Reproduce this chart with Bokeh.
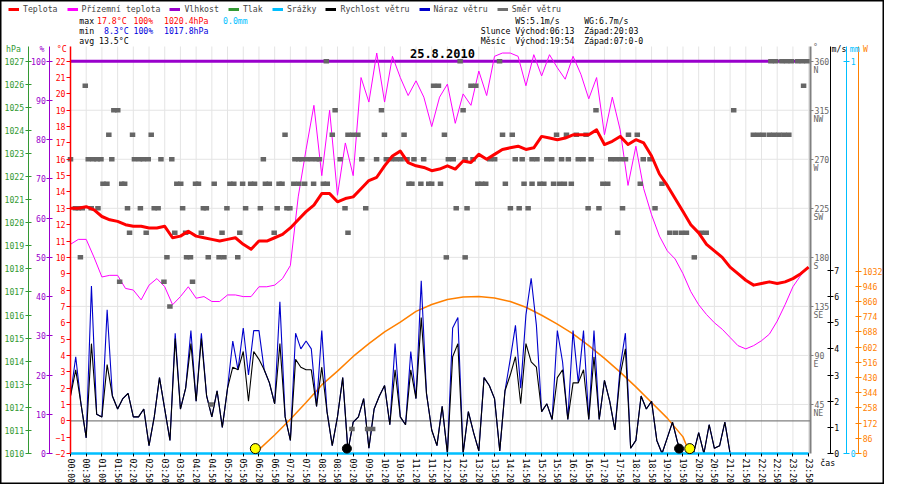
from bokeh.plotting import figure
from bokeh.models import (Range1d, LinearAxis, FixedTicker, Label, Legend, LegendItem)
from bokeh.embed import file_html
from bokeh.resources import INLINE

FONT = "DejaVu Sans Mono"
FS = "8.2px"

# ---------------- data ----------------
time_labels = ["00:00", "00:30", "01:00", "01:50", "02:20", "02:50", "03:20", "03:50",
               "04:20", "04:50", "05:20", "05:50", "06:20", "06:50", "07:20", "07:50",
               "08:20", "08:50", "09:20", "09:50", "10:20", "10:50", "11:20", "11:50",
               "12:20", "12:50", "13:20", "13:50", "14:20", "14:50", "15:20", "15:50",
               "16:20", "16:50", "17:20", "17:50", "18:20", "18:50", "19:20", "19:50",
               "20:20", "20:50", "21:20", "21:50", "22:20", "22:50", "23:20", "23:50"]

# temperature series sampled every half label slot
temp_slot = [i * 0.5 for i in range(95)]
temperature = [13.0, 13.0, 13.1, 12.9, 12.5, 12.3, 12.2, 12.0, 11.9, 11.9,
               11.8, 11.8, 11.9, 11.2, 11.3, 11.6, 11.3, 11.2, 11.1, 11.0,
               11.1, 11.2, 10.8, 10.5, 11.0, 11.0, 11.2, 11.4, 11.8, 12.3,
               12.8, 13.2, 13.9, 13.9, 13.4, 13.6, 13.7, 14.2, 14.7, 14.9,
               15.6, 16.2, 16.5, 15.8, 15.6, 15.5, 15.3, 15.4, 15.6, 15.4,
               15.9, 15.8, 16.3, 16.0, 16.3, 16.6, 16.7, 16.8, 16.6, 16.7,
               17.4, 17.3, 17.2, 17.3, 17.5, 17.5, 17.5, 17.8, 16.9, 17.1,
               17.4, 16.9, 17.2, 17.0, 16.2, 15.1, 14.4, 13.6, 12.8, 12.0,
               11.5, 10.8, 10.4, 10.0, 9.4, 9.0, 8.6, 8.3, 8.4, 8.5,
               8.4, 8.5, 8.7, 9.0, 9.4]
ground_temp = [10.8, 11.1, 11.1, 10.0, 8.8, 8.9, 8.9, 8.1, 8.0, 7.4,
               8.3, 8.7, 8.2, 7.1, 7.6, 8.2, 7.5, 7.6, 7.3, 7.3,
               7.7, 7.7, 7.6, 7.6, 8.2, 8.2, 8.3, 8.7, 9.5, 13.7,
               16.6, 19.3, 15.0, 19.0, 13.8, 17.0, 15.0, 21.0, 19.5, 22.5,
               19.5, 22.3, 21.0, 19.9, 20.8, 19.8, 18.0, 19.8, 20.6, 18.2,
               20.0, 19.3, 21.4, 19.9, 22.3, 22.5, 22.5, 22.3, 20.5, 22.4,
               21.1, 22.4, 21.6, 20.9, 22.3, 21.2, 19.7, 21.0, 17.5, 19.8,
               17.8, 14.4, 16.8, 14.2, 12.6, 11.3, 10.4, 9.9, 9.0, 7.9,
               7.1, 6.5, 6.0, 5.6, 5.1, 4.6, 4.4, 4.6, 4.9, 5.3,
               6.1, 7.1, 8.2, 8.9, 9.4]
humidity = [100] * 95
rain_mm = [0.0] * 95

# wind sampled every third of a label slot
wind_slot = [i / 3 for i in range(142)]
wind_speed = [2.2, 3.2, 1.9, 0.6, 4.2, 1.5, 1.4, 3.4, 2.2, 1.7,
              2.1, 2.3, 1.4, 1.4, 1.7, 0.3, 1.4, 2.9, 1.7, 0.5,
              4.4, 1.7, 2.5, 4.2, 2.0, 4.4, 2.2, 1.4, 2.4, 1.0,
              2.5, 3.3, 3.2, 3.9, 2.0, 3.9, 3.6, 3.2, 2.7, 1.9,
              4.2, 1.4, 0.5, 3.6, 3.3, 3.2, 3.2, 1.8, 3.3, 1.6,
              0.3, 1.4, 2.9, 0.1, 1.2, 1.4, 2.1, 0.2, 1.7, 2.2,
              2.6, 1.1, 3.2, 1.4, 1.1, 3.2, 2.1, 5.2, 2.3, 0.9,
              0.3, 1.8, 0.0, 3.7, 4.2, 0.0, 1.6, 0.8, 0.1, 2.9,
              2.6, 2.1, 0.1, 2.4, 3.0, 3.7, 1.9, 4.2, 3.5, 3.3,
              1.6, 1.9, 1.3, 2.9, 3.2, 1.3, 2.7, 2.7, 3.2, 1.3,
              3.7, 1.3, 2.8, 2.0, 0.9, 3.0, 4.0, 0.2, 0.5, 2.2,
              1.7, 2.0, 0.5, 0.0, 0.6, 1.2, 0.4, 0.0, 0.0, 0.0,
              0.8, 0.0, 1.1, 0.2, 0.3, 1.2, 0.0, 0.0, 0.0, 0.0,
              0.0, 0.0, 0.0, 0.0, 0.0, 0.0, 0.0, 0.0, 0.0, 0.0,
              0.0, 0.0]
wind_gust = [2.2, 3.7, 1.9, 0.6, 6.4, 1.5, 1.4, 5.5, 2.2, 1.7,
             2.1, 2.3, 1.4, 1.4, 1.7, 0.3, 1.4, 2.9, 1.7, 0.5,
             4.6, 1.7, 2.5, 4.7, 2.0, 4.6, 2.2, 1.4, 2.4, 1.0,
             2.5, 4.3, 3.2, 4.8, 3.0, 4.7, 4.7, 3.2, 2.7, 1.9,
             5.8, 1.4, 0.5, 4.6, 4.0, 4.3, 4.0, 1.8, 4.7, 1.6,
             0.3, 1.4, 2.9, 0.1, 1.2, 1.4, 2.1, 0.2, 1.7, 2.2,
             2.6, 1.1, 4.2, 1.4, 1.1, 3.9, 2.1, 6.6, 2.3, 0.9,
             0.3, 1.8, 0.0, 4.8, 5.2, 0.0, 1.6, 0.8, 0.1, 2.9,
             2.6, 2.1, 0.1, 2.4, 3.6, 4.9, 2.5, 5.3, 6.7, 4.9,
             1.6, 1.9, 1.3, 4.7, 3.5, 1.3, 4.7, 2.7, 4.7, 1.3,
             4.7, 1.3, 2.8, 2.0, 0.9, 3.3, 4.6, 0.2, 0.5, 2.2,
             1.7, 2.0, 0.5, 0.0, 0.6, 1.2, 0.4, 0.0, 0.0, 0.0,
             0.8, 0.0, 1.1, 0.2, 0.3, 1.2, 0.0, 0.0, 0.0, 0.0,
             0.0, 0.0, 0.0, 0.0, 0.0, 0.0, 0.0, 0.0, 0.0, 0.0,
             0.0, 0.0]

# theoretical sun radiation (W), sunrise 06:13 -> sunset 20:03
sun_slot = [11.77] + list(range(12, 40)) + [39.43]
sun_w = [0, 22, 105, 194, 288, 388, 466, 549, 621, 688, 743, 804, 843, 871, 885,
         888, 879, 860, 827, 782, 732, 677, 610, 538, 460, 377, 288, 200, 94, 0]

# wind direction samples (slot position per compass level)
dir_360 = [16.29, 24.81, 27.32, 44.6, 44.9, 45.3, 45.6, 45.9, 46.3, 46.6, 46.9]
dir_337 = [0.94, 23.12, 23.43, 25.50, 25.81, 46.68]
dir_315 = [2.76, 3.01, 16.85, 19.80, 25.00, 33.46, 42.23]
dir_292 = [2.44, 3.95, 5.14, 13.66, 16.67, 17.67, 17.98, 18.30, 19.99, 21.24, 23.81,
           27.51, 28.13, 30.95, 31.58, 32.21, 32.83, 35.53, 36.09, 43.48, 43.80,
           44.11, 44.49, 44.80, 45.11, 45.43, 45.74]
dir_270 = [0.00, 1.13, 1.44, 1.69, 1.94, 2.63, 4.07, 4.39, 4.64, 4.95, 5.76, 6.45,
           12.28, 14.29, 14.54, 14.72, 15.04, 15.35, 15.66, 15.85, 17.17, 18.55,
           19.49, 20.11, 20.43, 20.74, 21.05, 21.43, 21.87, 22.49, 24.06, 24.37,
           25.13, 25.63, 26.69, 27.01, 28.32, 28.76, 29.39, 29.70, 30.33, 30.64,
           31.27, 31.70, 32.33, 32.64, 33.15, 34.40, 34.71, 35.03, 35.34, 36.47, 36.90]
dir_247 = [2.07, 2.32, 3.26, 3.45, 6.77, 7.02, 7.96, 8.15, 9.15, 10.15, 10.40, 10.96,
           11.47, 11.72, 12.41, 12.66, 13.28, 13.47, 14.22, 14.54, 14.91, 15.48,
           16.10, 16.35, 21.55, 21.74, 22.31, 22.81, 23.00, 23.56, 25.94, 26.19,
           26.44, 27.69, 28.88, 29.39, 29.89, 30.14, 30.76, 31.14, 31.45, 31.89,
           33.90, 34.21, 36.28, 37.66]
dir_225 = [0.31, 0.50, 0.75, 1.32, 1.75, 3.63, 4.45, 5.33, 5.58, 7.14, 8.46, 8.65,
           9.96, 11.15, 12.09, 13.16, 13.78, 13.97, 17.48, 18.80, 24.56, 25.25,
           28.01, 28.57, 29.14, 32.96, 33.65, 35.15, 37.22]
dir_202 = [3.76, 4.82, 6.64, 7.33, 8.33, 9.65, 10.78, 12.97, 17.67, 34.84, 38.16,
           38.53, 38.91, 39.22, 40.16, 40.48]
dir_180 = [0.63, 6.14, 7.39, 7.64, 8.77, 9.46, 9.77, 10.65, 23.93, 25.13, 39.72]
dir_157 = [3.13, 5.95, 7.77]
dir_135 = [6.33]
dir_45 = [8.96]
dir_22 = [17.92, 18.92, 19.24]

dir_ticks = [45, 90, 135, 180, 225, 270, 315, 360]
compass = ["NE", "E", "SE", "S", "SW", "W", "NW", "N"]

sun_event_slot = [11.77, 39.43]
moon_event_slot = [17.6, 38.75]
event_level = [-1.7, -1.7]

temp_grid = [1, 4, 7, 10, 13, 16, 19]

legend_spec = [("Teplota", "#ff0000"), ("Přízemní teplota", "#ff00ff"),
               ("Vlhkost", "#9900cc"), ("Tlak", "#339933"), ("Srážky", "#00bfff"),
               ("Rychlost větru", "#000000"), ("Náraz větru", "#0000cc"),
               ("Směr větru", "#707070")]

# ---------------- layout geometry (canvas px) ----------------
W, H = 884, 484
FL, FR = 70, 810          # plotting area left/right
FT, FB = 46, 453          # plotting area top/bottom
X_END = 47.12             # slots shown in plotting area

per_x = (FR - FL) / X_END
x_rng = Range1d(-FL / per_x, X_END + (W - FR) / per_x)


def y_rng(lo, hi):
    per = (FB - FT) / (hi - lo)
    return Range1d(lo - (H - FB) / per, hi + FT / per)


p = figure(width=W, height=H, output_backend="svg", toolbar_location=None,
           x_range=x_rng, y_range=y_rng(-2, 22.9),
           x_axis_location=None, y_axis_location=None, title_location=None,
           min_border=0)
p.outline_line_color = "black"
p.outline_line_width = 2
p.background_fill_color = "white"
p.border_fill_color = "white"
p.xgrid.visible = False
p.ygrid.visible = False

bounds = {"temp": (-2, 22.9), "pct": (0, 103.75), "hpa": (1010, 1027.64),
          "dir": (0, 373.5), "ms": (0, 15.5625), "mm": (0, 1.0375), "w": (0, 2302)}
p.extra_y_ranges = {k: y_rng(*v) for k, v in bounds.items() if k != "temp"}


def fx(px):   # reference-image pixel -> slot units
    return (px - 71) / 15.96


def fy(py):   # reference-image pixel -> temperature units
    return -2 + (465 - py) / 16.667


def style_axis(ax, color, label_color=None, tin=3, tout=3, standoff=1, lw=1):
    ax.axis_line_color = color
    ax.axis_line_width = lw
    ax.major_tick_line_color = color
    ax.minor_tick_line_color = None
    ax.major_tick_in = tin
    ax.major_tick_out = tout
    ax.major_label_text_color = label_color or color
    ax.major_label_text_font = FONT
    ax.major_label_text_font_size = FS
    ax.major_label_standoff = standoff


# grid lines and zero line (drawn first, underneath)
slots = list(range(len(time_labels)))
p.segment(x0=slots, y0=-2, x1=slots, y1=22.9, line_color="#e4e4e4", line_width=1)
p.segment(x0=0, y0=temp_grid, x1=X_END, y1=temp_grid, line_color="#e4e4e4", line_width=1)
p.segment(x0=0, y0=[0], x1=X_END, y1=[0], line_color="#808080", line_width=1.2)

# x axis
xa = LinearAxis(fixed_location=-2, bounds=(0, X_END), ticker=FixedTicker(ticks=slots))
xa.major_label_overrides = {i: t for i, t in enumerate(time_labels)}
xa.major_label_orientation = "vertical"
style_axis(xa, "black", tin=0, tout=3, standoff=2)
xa.axis_line_color = None
p.add_layout(xa, "below")

# left axes
ta = LinearAxis(fixed_location=0, bounds=bounds["temp"],
                ticker=FixedTicker(ticks=list(range(-2, 23))))
style_axis(ta, "#ff0000", tin=0, tout=4, standoff=1, lw=1.5)
p.add_layout(ta, "left")

pa = LinearAxis(y_range_name="pct", fixed_location=fx(50), bounds=bounds["pct"],
                ticker=FixedTicker(ticks=list(range(0, 101, 10))))
style_axis(pa, "#9900cc")
p.add_layout(pa, "left")

ha = LinearAxis(y_range_name="hpa", fixed_location=fx(28), bounds=bounds["hpa"],
                ticker=FixedTicker(ticks=list(range(1010, 1028))))
style_axis(ha, "#339933")
p.add_layout(ha, "left")

# right axes
da = LinearAxis(y_range_name="dir", fixed_location=X_END, bounds=bounds["dir"],
                ticker=FixedTicker(ticks=dir_ticks))
style_axis(da, "#808080", label_color="#666666", tin=0, tout=3, standoff=1, lw=2)
p.add_layout(da, "right")

ma = LinearAxis(y_range_name="ms", fixed_location=fx(843), bounds=bounds["ms"],
                ticker=FixedTicker(ticks=list(range(0, 8))))
style_axis(ma, "black")
p.add_layout(ma, "right")

ra = LinearAxis(y_range_name="mm", fixed_location=fx(860), bounds=bounds["mm"],
                ticker=FixedTicker(ticks=[0, 1]))
style_axis(ra, "#00bfff")
p.add_layout(ra, "right")

wa = LinearAxis(y_range_name="w", fixed_location=fx(872), bounds=bounds["w"],
                ticker=FixedTicker(ticks=list(range(0, 1033, 86))))
style_axis(wa, "#ff8000")
p.add_layout(wa, "right")

# ---------------- series ----------------
p.line(temp_slot, humidity, y_range_name="pct", line_color="#9900cc", line_width=3)
p.line(sun_slot, sun_w, y_range_name="w", line_color="#ff8000", line_width=1.5)
p.line(wind_slot, wind_gust, y_range_name="ms", line_color="#0000cc", line_width=1.1)
p.line(wind_slot, wind_speed, y_range_name="ms", line_color="black", line_width=1.1)
p.line(temp_slot, ground_temp, line_color="#ff00ff", line_width=1)

levels = [(360, dir_360), (337.5, dir_337), (315, dir_315), (292.5, dir_292),
          (270, dir_270), (247.5, dir_247), (225, dir_225), (202.5, dir_202),
          (180, dir_180), (157.5, dir_157), (135, dir_135), (45, dir_45), (22.5, dir_22)]
dir_slot = []
dir_deg = []
for deg, sl in levels:
    dir_slot += sl
    dir_deg += [deg] * len(sl)
p.rect(dir_slot, dir_deg, width=5.5, height=4.5, width_units="screen",
       height_units="screen", y_range_name="dir",
       fill_color="#666666", line_color=None)

p.line(temp_slot, temperature, line_color="#ff0000", line_width=3, line_join="round")
p.line(temp_slot, rain_mm, y_range_name="mm", line_color="#00bfff", line_width=2.5)

p.scatter(moon_event_slot, event_level, marker="circle", size=9,
          fill_color="black", line_color="black")
p.scatter(sun_event_slot, event_level, marker="circle", size=10,
          fill_color="#ffff00", line_color="black", line_width=1)

# ---------------- legend ----------------
items = []
for name, col in legend_spec:
    r = p.line([-50, -49], [-50, -50], line_color=col, line_width=3)
    items.append(LegendItem(label=name, renderers=[r]))
legend = Legend(items=items, orientation="horizontal", location=(8, 470),
                label_text_font=FONT, label_text_font_size=FS,
                glyph_width=11, glyph_height=10, label_height=10, label_standoff=4,
                spacing=9, padding=1, margin=0, border_line_color=None,
                background_fill_alpha=0)
p.add_layout(legend)


# ---------------- texts ----------------
def txt(s, px, py, color="black", size=FS, bold=False, align="left"):
    p.add_layout(Label(x=fx(px), y=fy(py), text=s, text_color=color, text_font=FONT,
                       text_font_size=size, text_baseline="middle", text_align=align,
                       text_font_style="bold" if bold else "normal"))


txt("max", 80, 24)
txt("17.8°C", 98, 24, "#ff0000")
txt("100%", 135, 24, "#ff0000")
txt("1020.4hPa", 166, 24, "#ff0000")
txt("0.0mm", 226, 24, "#00bfff")
txt("min", 80, 34)
txt("8.3°C", 105, 34, "#0000dd")
txt("100%", 135, 34, "#0000dd")
txt("1017.8hPa", 166, 34, "#0000dd")
txt("avg 13.5°C", 80, 44)

txt("WS:5.1m/s", 523, 24)
txt("WG:6.7m/s", 593, 24)
txt("Slunce", 488, 34)
txt("Východ:06:13", 523, 34)
txt("Západ:20:03", 593, 34)
txt("Měsíc", 488, 44)
txt("Východ:19:54", 523, 44)
txt("Západ:07:0-0", 593, 44)

txt("25.8.2010", 449, 57, size="12px", bold=True, align="center")

txt("hPa", 13, 53, "#339933", align="center")
txt("%", 42, 53, "#9900cc", align="center")
txt("°C", 62, 53, "#ff0000", align="center")
txt("°", 828, 51, "#666666", align="center")
txt("m/s", 852, 53, "black", align="center")
txt("mm", 868, 53, "#00bfff", align="center")
txt("W", 879, 53, "#ff8000", align="center")
txt("čas", 833, 475)

# compass letters under the direction tick labels
for deg, name in zip(dir_ticks, compass):
    p.add_layout(Label(x=fx(826), y=deg, y_range_name="dir", y_offset=-9, text=name,
                       text_color="#666666", text_font=FONT, text_font_size=FS,
                       text_baseline="middle", text_align="left"))

open("out.html", "w").write(file_html(p, INLINE))
